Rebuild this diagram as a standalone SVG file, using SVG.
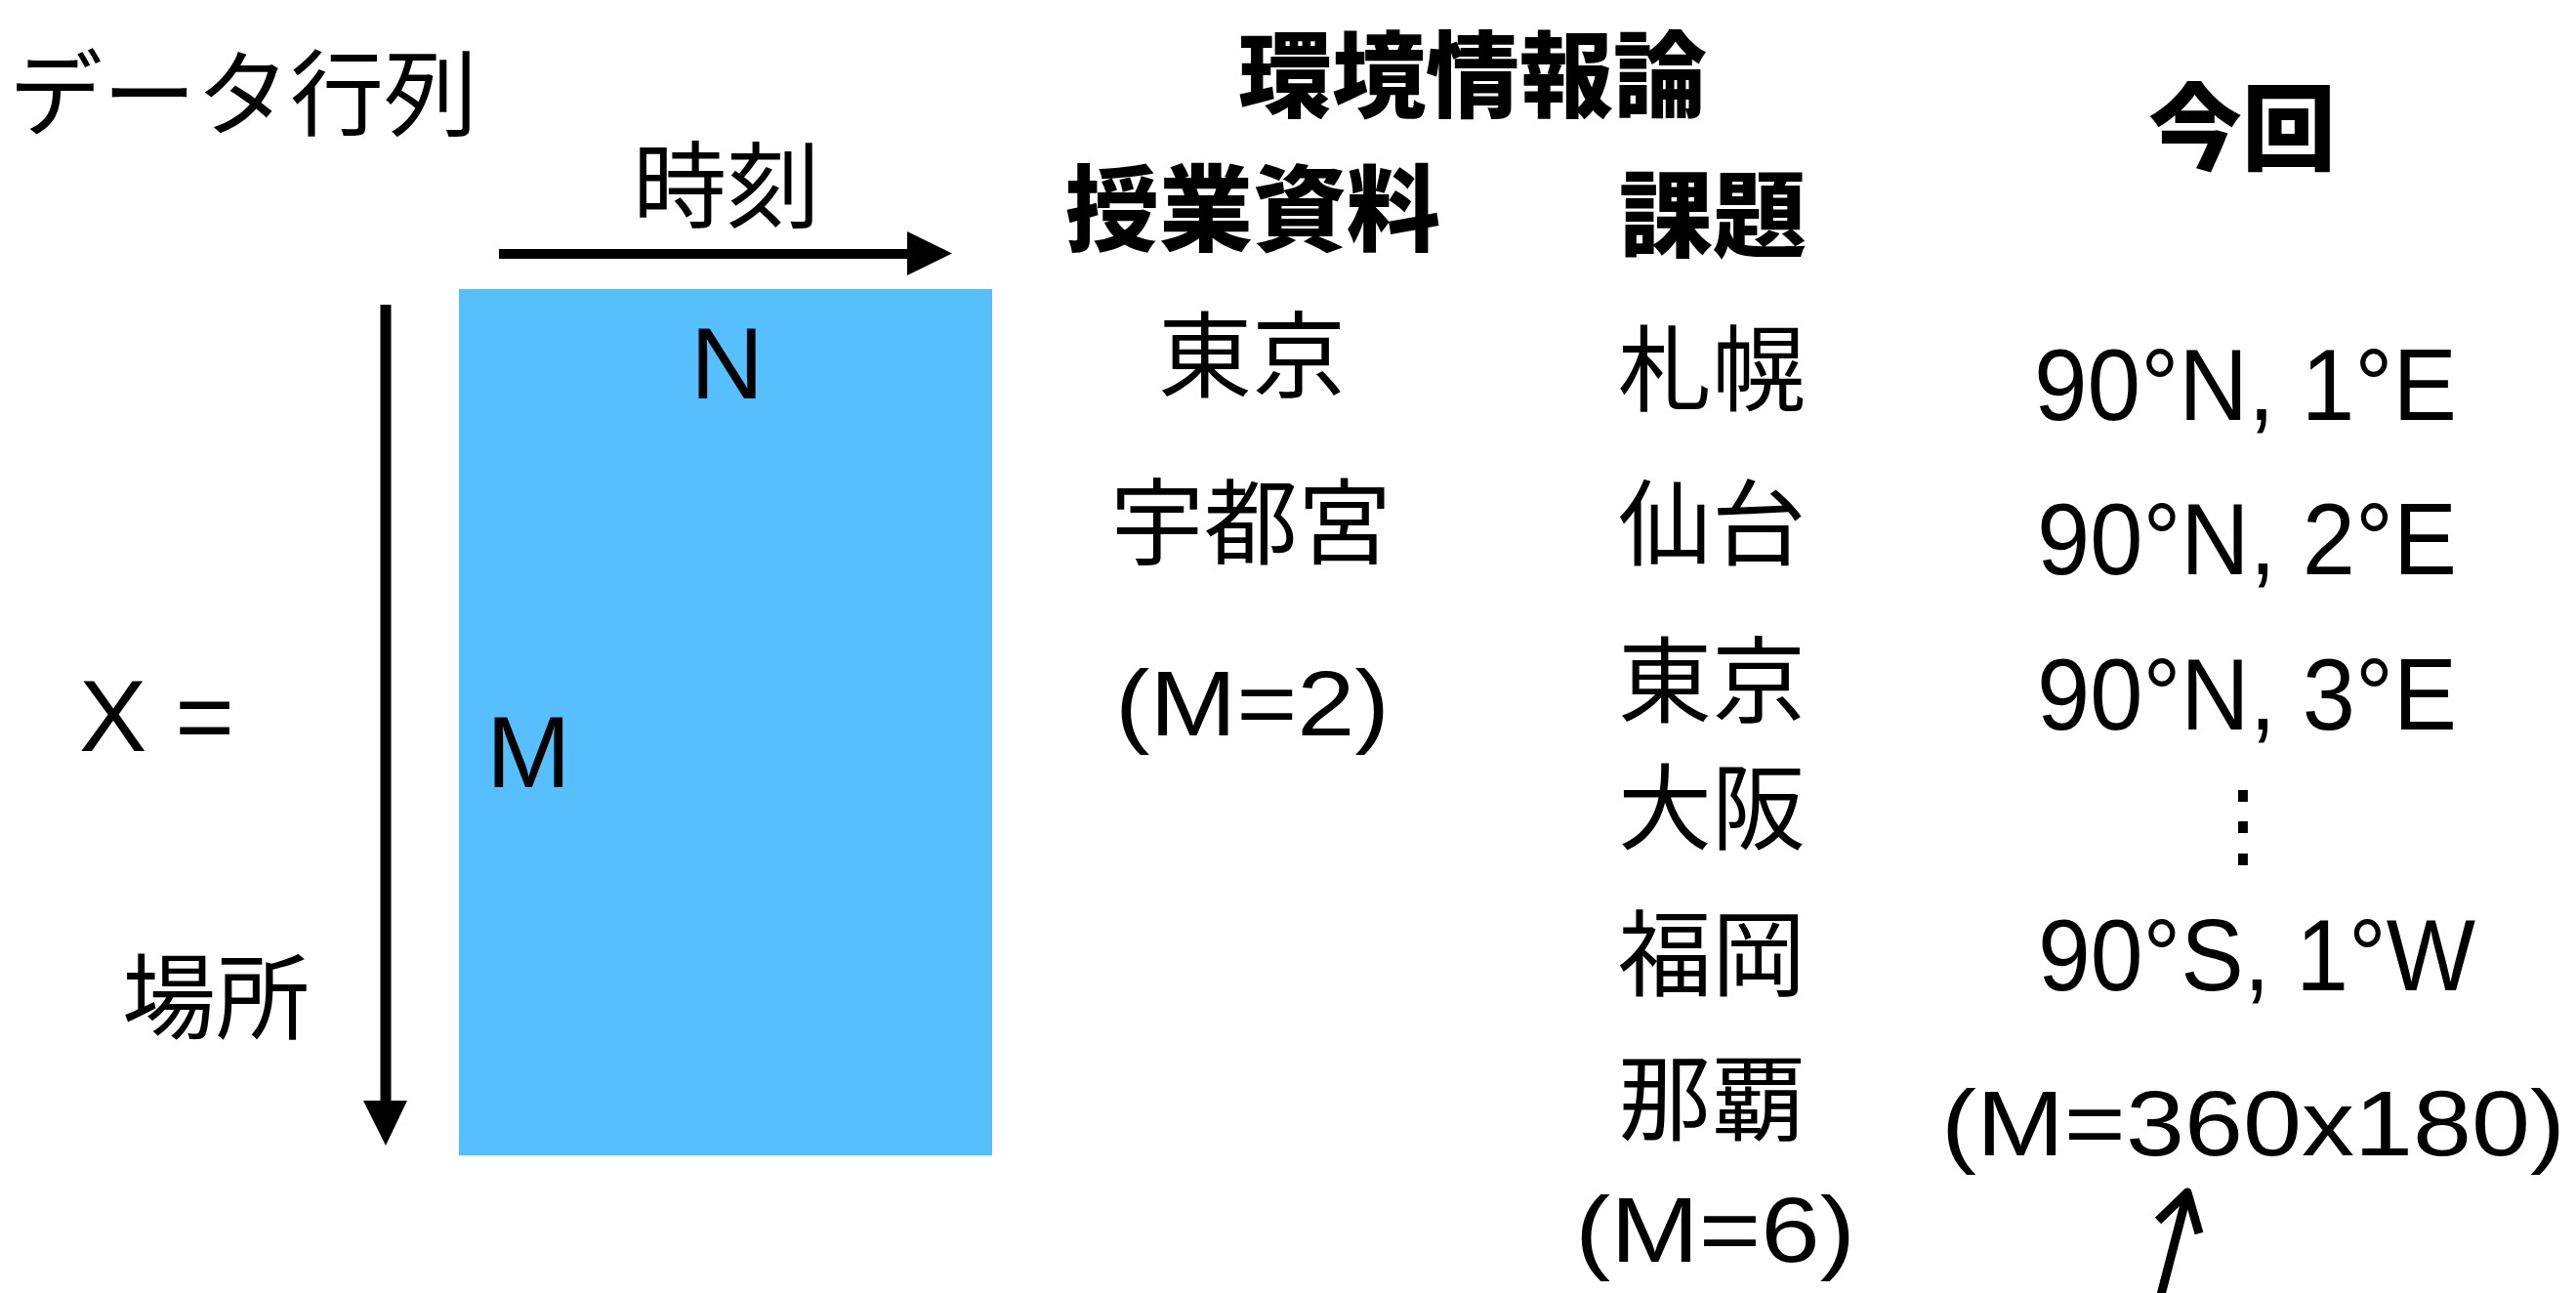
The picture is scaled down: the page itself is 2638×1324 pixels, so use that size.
<svg xmlns="http://www.w3.org/2000/svg" width="2638" height="1324" viewBox="0 0 2638 1324">
<style>
.jp{font-family:"Noto Sans CJK JP","Noto Sans CJK SC",sans-serif;font-size:96px;fill:#000;text-anchor:middle}
.jb{font-family:"Noto Sans CJK JP","Noto Sans CJK SC",sans-serif;font-size:96px;font-weight:900;fill:#000;text-anchor:middle}
.la{font-family:"Liberation Sans",Arial,sans-serif;font-size:104px;fill:#000}
.lm{font-family:"Liberation Sans",Arial,sans-serif;font-size:94px;fill:#000}
.ln{stroke:#000;fill:none}
</style>
<rect width="2638" height="1324" fill="#fff"/>
<g id="title"><text class="jp" x="249" y="131">データ行列</text></g>
<g id="time-label"><text class="jp" x="744" y="225">時刻</text></g>
<g id="place-label"><text class="jp" x="221" y="1056">場所</text></g>
<g id="x-eq"><text class="la" x="81" y="769">X =</text></g>
<g id="matrix">
<rect x="470" y="296" width="546" height="887" fill="#57BFFE"/>
<text class="la" x="707" y="408">N</text>
<text class="la" x="498" y="806">M</text>
</g>
<g id="connectors">
<rect x="511" y="255" width="420" height="10" fill="#000"/>
<polygon points="929,237 975,259.5 929,282" fill="#000"/>
<rect x="389.5" y="312" width="11" height="817" fill="#000"/>
<polygon points="372,1127 417,1127 395,1173" fill="#000"/>
<path class="ln" d="M2213,1326 L2240,1222 M2210,1250 L2240,1221 L2252,1263" stroke-width="9" stroke-linejoin="round"/>
</g>
<g id="course-header"><text class="jb" x="1508" y="112">環境情報論</text></g>
<g id="col-lecture">
<text class="jb" x="1283" y="249">授業資料</text>
<text class="jp" x="1282" y="399">東京</text>
<text class="jp" x="1281" y="570">宇都宮</text>
<text class="lm" x="1142" y="753" textLength="281" lengthAdjust="spacingAndGlyphs">(M=2)</text>
</g>
<g id="col-assignment">
<text class="jb" x="1754" y="255">課題</text>
<text class="jp" x="1753" y="413">札幌</text>
<text class="jp" x="1753" y="571">仙台</text>
<text class="jp" x="1753" y="732">東京</text>
<text class="jp" x="1753" y="862">大阪</text>
<text class="jp" x="1753" y="1012">福岡</text>
<text class="jp" x="1753" y="1160">那覇</text>
<text class="lm" x="1613" y="1292" textLength="287" lengthAdjust="spacingAndGlyphs">(M=6)</text>
</g>
<g id="col-this-time">
<text class="jb" x="2296" y="166">今回</text>
<text class="la" x="2083" y="430" textLength="433" lengthAdjust="spacingAndGlyphs">90°N, 1°E</text>
<text class="la" x="2086" y="588" textLength="430" lengthAdjust="spacingAndGlyphs">90°N, 2°E</text>
<text class="la" x="2086" y="747" textLength="430" lengthAdjust="spacingAndGlyphs">90°N, 3°E</text>
<text class="jp" x="2297" y="877">⋮</text>
<text class="la" x="2087" y="1014" textLength="448" lengthAdjust="spacingAndGlyphs">90°S, 1°W</text>
<text class="lm" x="1988" y="1183" textLength="639" lengthAdjust="spacingAndGlyphs">(M=360x180)</text>
</g>
</svg>
